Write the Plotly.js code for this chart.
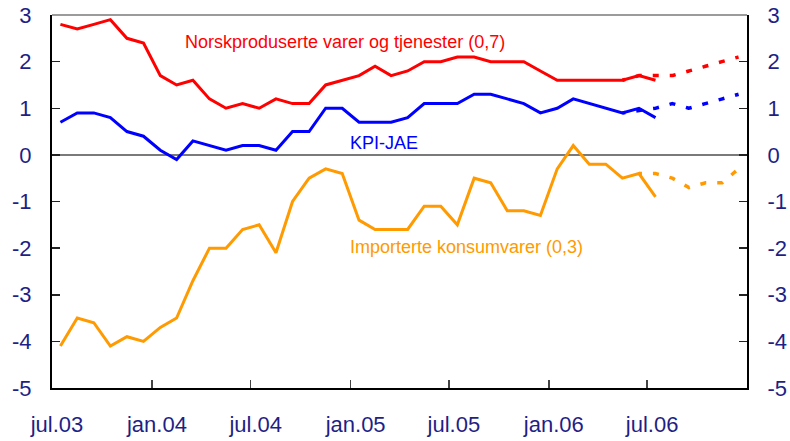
<!DOCTYPE html>
<html>
<head>
<meta charset="utf-8">
<script src="https://cdn.plot.ly/plotly-3.0.1.min.js"></script>
<style>html,body{margin:0;padding:0;background:#fff;}#chart{width:790px;height:441px;}</style>
</head>
<body>
<div id="chart"></div>
<script>
// Monthly observations, jul.03 - jul.06
const months = ['2003-07','2003-08','2003-09','2003-10','2003-11','2003-12',
  '2004-01','2004-02','2004-03','2004-04','2004-05','2004-06','2004-07','2004-08','2004-09','2004-10','2004-11','2004-12',
  '2005-01','2005-02','2005-03','2005-04','2005-05','2005-06','2005-07','2005-08','2005-09','2005-10','2005-11','2005-12',
  '2006-01','2006-02','2006-03','2006-04','2006-05','2006-06','2006-07'];
const norsk = [2.8,2.7,2.8,2.9,2.5,2.4,1.7,1.5,1.6,1.2,1.0,1.1,1.0,1.2,1.1,1.1,1.5,1.6,1.7,1.9,1.7,1.8,2.0,2.0,2.1,2.1,2.0,2.0,2.0,1.8,1.6,1.6,1.6,1.6,1.6,1.7,1.6];
const kpiJae = [0.7,0.9,0.9,0.8,0.5,0.4,0.1,-0.1,0.3,0.2,0.1,0.2,0.2,0.1,0.5,0.5,1.0,1.0,0.7,0.7,0.7,0.8,1.1,1.1,1.1,1.3,1.3,1.2,1.1,0.9,1.0,1.2,1.1,1.0,0.9,1.0,0.8];
const importert = [-4.1,-3.5,-3.6,-4.1,-3.9,-4.0,-3.7,-3.5,-2.7,-2.0,-2.0,-1.6,-1.5,-2.1,-1.0,-0.5,-0.3,-0.4,-1.4,-1.6,-1.6,-1.6,-1.1,-1.1,-1.5,-0.5,-0.6,-1.2,-1.2,-1.3,-0.3,0.2,-0.2,-0.2,-0.5,-0.4,-0.9];

// Projections (dotted)
const fcMonthsA = ['2006-05','2006-06','2006-07','2006-08','2006-09','2006-10','2006-11','2006-12'];
const norskFc = [1.6,1.7,1.7,1.7,1.8,1.9,2.0,2.1];
const kpiJaeFc = [0.9,0.95,1.0,1.1,1.0,1.1,1.2,1.3];
const fcMonthsB = ['2006-06','2006-07','2006-08','2006-09','2006-10','2006-11','2006-12'];
const importertFc = [-0.4,-0.4,-0.5,-0.7,-0.6,-0.6,-0.3];

// Axis ticks
const xTickVals = ['2003-07-01','2004-01-01','2004-07-01','2005-01-01','2005-07-01','2006-01-01','2006-07-01'];
const xTickText = ['jul.03','jan.04','jul.04','jan.05','jul.05','jan.06','jul.06'];
const yTickVals = [3,2,1,0,-1,-2,-3,-4,-5];
const yTickText = ['3','2','1','0','-1','-2','-3','-4','-5'];

const RED = '#ff0000', BLUE = '#0000ff', ORANGE = '#ff9a00', NAVY = '#1f1f86';
const FONT = 'Arial, "Liberation Sans", sans-serif';
const dotted = '3px,11px,3px,0px';

function solid(y, color) {
  return {x: months, y: y, type: 'scatter', mode: 'lines', xperiod: 'M1', xperiodalignment: 'middle',
    line: {color: color, width: 3}, hoverinfo: 'skip', showlegend: false};
}
function fc(x, y, color) {
  return {x: x, y: y, type: 'scatter', mode: 'lines', xperiod: 'M1', xperiodalignment: 'middle', yaxis: 'y2',
    line: {color: color, width: 3.5, dash: dotted}, hoverinfo: 'skip', showlegend: false};
}

const data = [
  solid(importert, ORANGE), solid(kpiJae, BLUE), solid(norsk, RED),
  fc(fcMonthsB, importertFc, ORANGE), fc(fcMonthsA, kpiJaeFc, BLUE), fc(fcMonthsA, norskFc, RED)
];

const yCommon = {
  range: [-5, 3], tickmode: 'array', tickvals: yTickVals, ticktext: yTickText,
  ticks: 'inside', ticklen: 8, tickwidth: 1.5, tickcolor: '#222',
  showline: true, linecolor: '#000', linewidth: 2, showgrid: false,
  tickfont: {family: FONT, size: 22, color: NAVY}, ticklabelstandoff: 14, fixedrange: true
};

const layout = {
  width: 790, height: 441,
  margin: {l: 52, r: 43, t: 15, b: 53, pad: 0},
  paper_bgcolor: '#fff', plot_bgcolor: '#fff',
  showlegend: false,
  font: {family: FONT},
  xaxis: {
    type: 'date', range: ['2003-07-01', '2007-01-01'],
    tickmode: 'array', tickvals: xTickVals, ticktext: xTickText,
    ticks: 'inside', ticklen: 8, tickwidth: 1.5, tickcolor: '#444',
    showline: true, linecolor: '#000', linewidth: 2, showgrid: false, zeroline: false,
    tickfont: {family: FONT, size: 22, color: NAVY}, ticklabelstandoff: 16, ticklabelshift: 5
  },
  yaxis: Object.assign({}, yCommon, {side: 'left', zeroline: true, zerolinecolor: '#7a7a7a', zerolinewidth: 1.5}),
  yaxis2: Object.assign({}, yCommon, {side: 'right', overlaying: 'y', anchor: 'x', zeroline: false}),
  shapes: [
    {type: 'line', xref: 'paper', yref: 'paper', x0: 0, x1: 1, y0: 1, y1: 1, line: {color: '#7a7a7a', width: 1.5}}
  ],
  annotations: [
    {x: '2004-02-28', y: 2.42, xref: 'x', yref: 'y', xanchor: 'left', yanchor: 'middle', showarrow: false,
     text: 'Norskproduserte varer og tjenester (0,7)', font: {family: FONT, size: 18, color: RED}},
    {x: '2004-12-28', y: 0.26, xref: 'x', yref: 'y', xanchor: 'left', yanchor: 'middle', showarrow: false,
     text: 'KPI-JAE', font: {family: FONT, size: 18, color: BLUE}},
    {x: '2004-12-27', y: -1.97, xref: 'x', yref: 'y', xanchor: 'left', yanchor: 'middle', showarrow: false,
     text: 'Importerte konsumvarer (0,3)', font: {family: FONT, size: 18, color: ORANGE}}
  ]
};

Plotly.newPlot('chart', data, layout, {staticPlot: true, displayModeBar: false});
</script>
</body>
</html>
